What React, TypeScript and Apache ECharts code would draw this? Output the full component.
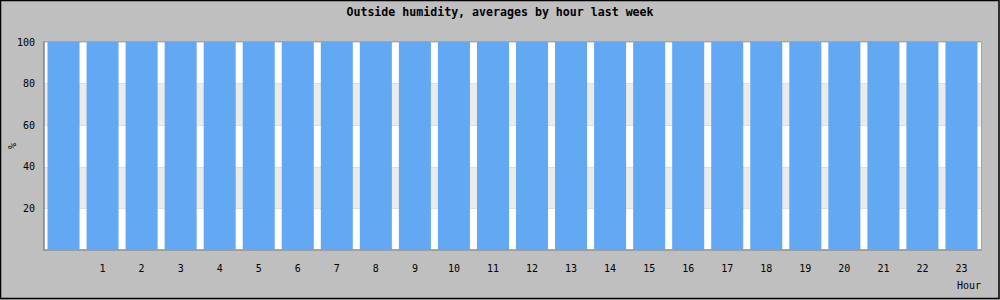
import React, { useEffect, useRef } from "react";
import * as echarts from "echarts";

const hours: string[] = [
  "", "1", "2", "3", "4", "5", "6", "7", "8", "9", "10", "11", "12",
  "13", "14", "15", "16", "17", "18", "19", "20", "21", "22", "23",
];
const humidity: number[] = [
  100, 100, 100, 100, 100, 100, 100, 100, 100, 100, 100, 100,
  100, 100, 100, 100, 100, 100, 100, 100, 100, 100, 100, 100,
];
const titleText = "Outside humidity, averages by hour last week";
const yName = "%";
const xName = "Hour";

const FONT = "'DejaVu Sans Mono', 'Liberation Mono', monospace";

export default function App() {
  const ref = useRef<HTMLDivElement>(null);
  useEffect(() => {
    document.body.style.margin = "0";
    if (!ref.current) return;
    const chart = echarts.init(ref.current, undefined, { renderer: "svg" });
    chart.setOption({
      animation: false,
      backgroundColor: "#bfbfbf",
      title: {
        text: titleText,
        left: "center",
        top: 6,
        padding: 0,
        textStyle: { fontFamily: FONT, fontSize: 11.6, fontWeight: "bold", color: "#000" },
      },
      grid: {
        left: 44,
        right: 19,
        top: 42,
        bottom: 50,
        containLabel: false,
        outerBoundsMode: "none",
        show: true,
        backgroundColor: "#fff",
        borderColor: "#888",
        borderWidth: 1,
      },
      graphic: [
        {
          type: "rect",
          shape: { x: 0.5, y: 0.5, width: 998.5, height: 298 },
          style: { fill: "none", stroke: "#000", lineWidth: 1.5 },
          silent: true,
        },
      ],
      xAxis: {
        type: "category",
        data: hours,
        name: xName,
        nameLocation: "end",
        nameGap: 0,
        nameMoveOverlap: false,
        nameTextStyle: {
          fontFamily: FONT, fontSize: 10, color: "#000",
          align: "right", verticalAlign: "top", padding: [30, 0, 0, 0],
        },
        axisLine: { lineStyle: { color: "#888", width: 1.5 } },
        axisTick: { show: false },
        axisLabel: { fontFamily: FONT, fontSize: 10, color: "#000", margin: 13 },
        splitLine: { show: false },
      },
      yAxis: {
        type: "value",
        min: 0,
        max: 100,
        interval: 20,
        name: yName,
        nameLocation: "middle",
        nameGap: 27,
        nameRotate: 90,
        nameMoveOverlap: false,
        nameTextStyle: { fontFamily: FONT, fontSize: 10, color: "#000" },
        axisLine: { show: true, lineStyle: { color: "#888", width: 1.5 } },
        axisTick: { show: false },
        axisLabel: { fontFamily: FONT, fontSize: 10, color: "#000", margin: 9, showMinLabel: false },
        splitLine: { show: true, lineStyle: { color: "#dedede", width: 1 } },
        splitArea: { show: true, areaStyle: { color: ["#ffffff", "#ebebeb"] } },
      },
      series: [
        {
          type: "bar",
          data: humidity,
          barCategoryGap: "18%",
          itemStyle: { color: "#62a8f3" },
        },
      ],
    });
    return () => chart.dispose();
  }, []);
  return <div ref={ref} style={{ width: 1000, height: 300 }} />;
}
